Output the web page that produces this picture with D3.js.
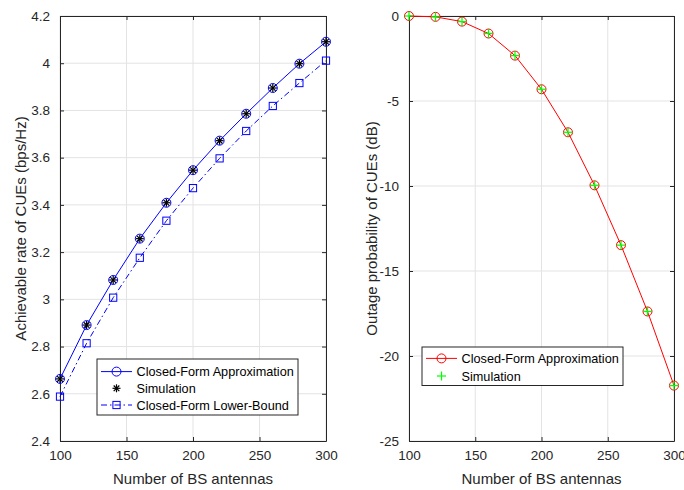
<!DOCTYPE html>
<html lang="en">
<head>
<meta charset="UTF-8">
<title>Rate and outage vs BS antennas</title>
<script src="https://d3js.org/d3.v7.min.js"></script>
<style>
    body { margin: 0; background: #fff; }
    text { font-family: "Liberation Sans", Arial, sans-serif; fill: #262626; }
    .tick_text { font-size: 13.5px; }
    .axis_label { font-size: 15px; }
    .legend_text { font-size: 12.7px; fill: #000; }
</style>
</head>
<body>
<svg width="684" height="490"></svg>
<script>
    // antennas on both panels
    const antennas = [100, 120, 140, 160, 180, 200, 220, 240, 260, 280, 300];

    // left panel: achievable rate (bps/Hz)
    const rateApprox = [2.663, 2.891, 3.082, 3.257, 3.409, 3.547, 3.672, 3.786, 3.895, 3.998, 4.091];
    const rateSim    = [2.663, 2.891, 3.082, 3.257, 3.409, 3.547, 3.672, 3.786, 3.895, 3.998, 4.091];
    const rateLower  = [2.588, 2.814, 3.007, 3.176, 3.333, 3.471, 3.597, 3.713, 3.819, 3.916, 4.011];

    // right panel: outage probability (dB)
    const outApprox = [0, -0.05, -0.33, -1.03, -2.33, -4.31, -6.84, -9.96, -13.48, -17.38, -21.74];
    const outSim    = [0, -0.05, -0.33, -1.03, -2.33, -4.31, -6.84, -9.96, -13.48, -17.38, -21.74];

    const xTicks = [100, 150, 200, 250, 300];
    const rateTicks = [2.4, 2.6, 2.8, 3, 3.2, 3.4, 3.6, 3.8, 4, 4.2];
    const outTicks = [0, -5, -10, -15, -20, -25];

    const svg = d3.select("svg");
    const axisCol = "#262626";

    function drawPanel(opt) {
        const g = svg.append("g");
        const x = d3.scaleLinear().domain([100, 300]).range([opt.left, opt.right]);
        const y = d3.scaleLinear().domain(opt.yDomain).range([opt.bottom, opt.top]);

        // grid
        g.append("g").selectAll("line").data(xTicks).join("line")
            .attr("x1", d => x(d)).attr("x2", d => x(d))
            .attr("y1", opt.top).attr("y2", opt.bottom)
            .attr("stroke", "#e3e3e3").attr("stroke-width", 1);
        g.append("g").selectAll("line").data(opt.yTicks).join("line")
            .attr("y1", d => y(d)).attr("y2", d => y(d))
            .attr("x1", opt.left).attr("x2", opt.right)
            .attr("stroke", "#e3e3e3").attr("stroke-width", 1);

        // axes (inward ticks, mirrored)
        const fmt = d => String(d);
        const ax = [
            d3.axisBottom(x).tickValues(xTicks).tickSizeInner(-4).tickSizeOuter(0).tickPadding(9).tickFormat(fmt),
            d3.axisTop(x).tickValues(xTicks).tickSizeInner(-4).tickSizeOuter(0).tickFormat(""),
            d3.axisLeft(y).tickValues(opt.yTicks).tickSizeInner(-4).tickSizeOuter(0).tickPadding(10).tickFormat(fmt),
            d3.axisRight(y).tickValues(opt.yTicks).tickSizeInner(-4).tickSizeOuter(0).tickFormat("")
        ];
        const pos = [
            `translate(0,${opt.bottom})`, `translate(0,${opt.top})`,
            `translate(${opt.left},0)`, `translate(${opt.right},0)`
        ];
        ax.forEach((a, i) => {
            const ag = g.append("g").attr("transform", pos[i]).call(a);
            ag.select(".domain").attr("stroke", axisCol).attr("stroke-width", 1);
            ag.selectAll(".tick line").attr("stroke", axisCol);
            ag.selectAll(".tick text").attr("class", "tick_text").attr("fill", axisCol);
            ag.attr("font-family", null).attr("font-size", null);
        });

        // labels
        g.append("text").attr("class", "axis_label")
            .attr("x", (opt.left + opt.right) / 2).attr("y", 484)
            .attr("text-anchor", "middle").text("Number of BS antennas");
        g.append("text").attr("class", "axis_label")
            .attr("transform", `translate(${opt.yLabelX},${(opt.top + opt.bottom) / 2}) rotate(-90)`)
            .attr("text-anchor", "middle").text(opt.yLabel);

        return {g, x, y};
    }

    function circleMark(sel, cx, cy, col) {
        sel.append("circle").attr("cx", cx).attr("cy", cy).attr("r", 4.5)
            .attr("fill", "none").attr("stroke", col).attr("stroke-width", 1);
    }
    function squareMark(sel, cx, cy, col) {
        sel.append("rect").attr("x", cx - 3.6).attr("y", cy - 3.6).attr("width", 7.2).attr("height", 7.2)
            .attr("fill", "none").attr("stroke", col).attr("stroke-width", 1);
    }
    function starMark(sel, cx, cy, col) {
        const r = 4;
        for (let k = 0; k < 4; k++) {
            const a = k * Math.PI / 4;
            sel.append("line")
                .attr("x1", cx - r * Math.cos(a)).attr("y1", cy - r * Math.sin(a))
                .attr("x2", cx + r * Math.cos(a)).attr("y2", cy + r * Math.sin(a))
                .attr("stroke", col).attr("stroke-width", 1.2);
        }
    }
    function plusMark(sel, cx, cy, col) {
        const r = 4.5;
        sel.append("line").attr("x1", cx - r).attr("x2", cx + r).attr("y1", cy).attr("y2", cy)
            .attr("stroke", col).attr("stroke-width", 1.2);
        sel.append("line").attr("x1", cx).attr("x2", cx).attr("y1", cy - r).attr("y2", cy + r)
            .attr("stroke", col).attr("stroke-width", 1.2);
    }

    function legend(g, lx, ly, w, h, first, rowH, items) {
        g.append("rect").attr("x", lx).attr("y", ly).attr("width", w).attr("height", h)
            .attr("fill", "#fff").attr("stroke", axisCol).attr("stroke-width", 1);
        items.forEach((it, i) => {
            const cy = ly + first + rowH * i;
            if (it.dash !== null) {
                g.append("line").attr("x1", lx + 4).attr("x2", lx + 35).attr("y1", cy).attr("y2", cy)
                    .attr("stroke", it.col).attr("stroke-width", 1).attr("stroke-dasharray", it.dash);
            }
            it.mark(g, lx + 19.5, cy, it.mcol);
            g.append("text").attr("class", "legend_text").attr("x", lx + 39.5).attr("y", cy + 4.5).text(it.label);
        });
    }

    // ---------------- left panel ----------------
    const L = drawPanel({left: 60, right: 326, top: 16, bottom: 441,
        yDomain: [2.4, 4.2], yTicks: rateTicks, yLabelX: 26,
        yLabel: "Achievable rate of CUEs (bps/Hz)"});

    const line = (xs, ys, sx, sy) => d3.line().x((d, i) => sx(xs[i])).y(d => sy(d))(ys);

    L.g.append("path").attr("d", line(antennas, rateLower, L.x, L.y))
        .attr("fill", "none").attr("stroke", "#0000ff").attr("stroke-width", 1)
        .attr("stroke-dasharray", "6,3,1.5,3");
    L.g.append("path").attr("d", line(antennas, rateApprox, L.x, L.y))
        .attr("fill", "none").attr("stroke", "#0000ff").attr("stroke-width", 1);
    antennas.forEach((a, i) => {
        circleMark(L.g, L.x(a), L.y(rateApprox[i]), "#0000ff");
        starMark(L.g, L.x(a), L.y(rateSim[i]), "#000");
        squareMark(L.g, L.x(a), L.y(rateLower[i]), "#0000ff");
    });
    legend(L.g, 97, 359, 201, 56, 12.6, 16.7, [
        {label: "Closed-Form Approximation", col: "#0000ff", dash: "none", mark: circleMark, mcol: "#0000ff"},
        {label: "Simulation", col: "#000", dash: null, mark: starMark, mcol: "#000"},
        {label: "Closed-Form Lower-Bound", col: "#0000ff", dash: "6,3,1.5,3", mark: squareMark, mcol: "#0000ff"}
    ]);

    // ---------------- right panel ----------------
    const R = drawPanel({left: 409, right: 674, top: 16, bottom: 441,
        yDomain: [-25, 0], yTicks: outTicks, yLabelX: 377,
        yLabel: "Outage probability of CUEs (dB)"});

    R.g.append("path").attr("d", line(antennas, outApprox, R.x, R.y))
        .attr("fill", "none").attr("stroke", "#ff0000").attr("stroke-width", 1);
    antennas.forEach((a, i) => {
        circleMark(R.g, R.x(a), R.y(outApprox[i]), "#ff0000");
        plusMark(R.g, R.x(a), R.y(outSim[i]), "#00ff00");
    });
    legend(R.g, 422, 347, 201, 38.5, 11.4, 17.6, [
        {label: "Closed-Form Approximation", col: "#ff0000", dash: "none", mark: circleMark, mcol: "#ff0000"},
        {label: "Simulation", col: "#00ff00", dash: null, mark: plusMark, mcol: "#00ff00"}
    ]);
</script>
</body>
</html>
